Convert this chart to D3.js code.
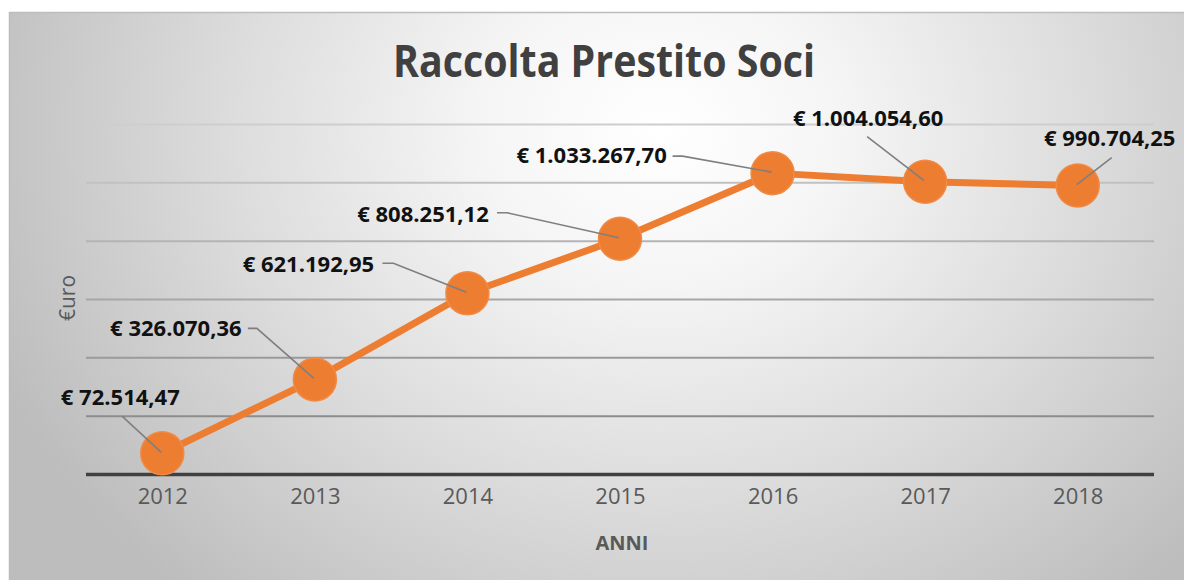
<!DOCTYPE html>
<html>
<head>
<meta charset="utf-8">
<script src="https://cdn.jsdelivr.net/npm/d3@7"></script>
<style>
  html, body { margin: 0; padding: 0; background: #ffffff; }
  svg { display: block; }
</style>
</head>
<body>
<svg id="chart" width="1184" height="580"></svg>
<script>
// ---- data ----
const years = ["2012", "2013", "2014", "2015", "2016", "2017", "2018"];
const values = [72514.47, 326070.36, 621192.95, 808251.12, 1033267.70, 1004054.60, 990704.25];
const valueLabels = ["€ 72.514,47", "€ 326.070,36", "€ 621.192,95", "€ 808.251,12",
                     "€ 1.033.267,70", "€ 1.004.054,60", "€ 990.704,25"];
const yTicks = [0, 200000, 400000, 600000, 800000, 1000000, 1200000];
const titleText = "Raccolta Prestito Soci";
const xTitle = "ANNI";
const yTitle = "€uro";

// ---- layout (annotation placement relative to each point) ----
// label: [dx of text centre, dy of baseline]; leader: [start dx, start dy, elbow length]
const labelLayout = [
  { tx: -42,  ty: -48, lx: -40, ly: -37, elbow: 0 },
  { tx: -139, ty: -43, lx: -67, ly: -51, elbow: 9 },
  { tx: -159, ty: -21, lx: -85, ly: -30, elbow: 11 },
  { tx: -197, ty: -17, lx: -123, ly: -26, elbow: 10 },
  { tx: -181, ty: -10, lx: -100, ly: -17, elbow: 10 },
  { tx: -57,  ty: -56, lx: -58, ly: -45, elbow: 0 },
  { tx: 32,   ty: -40, lx: 34,  ly: -28, elbow: 0 }
];

const W = 1184, H = 580;
const svg = d3.select("#chart");
const defs = svg.append("defs");

// background gradient
const bg = defs.append("radialGradient").attr("id", "bgGrad")
  .attr("gradientUnits", "userSpaceOnUse")
  .attr("cx", 660).attr("cy", 130).attr("r", 720)
  .attr("gradientTransform", "translate(660,130) scale(1,0.85) translate(-660,-130)");
bg.append("stop").attr("offset", "0%").attr("stop-color", "#ffffff");
bg.append("stop").attr("offset", "25%").attr("stop-color", "#f5f5f5");
bg.append("stop").attr("offset", "60%").attr("stop-color", "#dcdcdc");
bg.append("stop").attr("offset", "100%").attr("stop-color", "#bdbdbd");

const gridGrad = defs.append("linearGradient").attr("id", "gridGrad")
  .attr("gradientUnits", "userSpaceOnUse")
  .attr("x1", 0).attr("y1", 120).attr("x2", 0).attr("y2", 420);
gridGrad.append("stop").attr("offset", "0%").attr("stop-color", "#cfcfcf");
gridGrad.append("stop").attr("offset", "100%").attr("stop-color", "#8c8c8c");

svg.append("rect").attr("x", 9.5).attr("y", 12.5).attr("width", W).attr("height", H)
  .attr("fill", "url(#bgGrad)").attr("stroke", "#bdbdbd").attr("stroke-width", 1.5);

// scales
const x = d3.scalePoint().domain(years).range([86, 1154]).padding(0.5);
const y = d3.scaleLinear().domain([0, 1200000]).range([474.5, 124.5]);

// gridlines
svg.append("g").selectAll("line").data(yTicks.filter(d => d > 0)).join("line")
  .attr("x1", 86).attr("x2", 1154)
  .attr("y1", d => y(d)).attr("y2", d => y(d))
  .attr("stroke", "url(#gridGrad)").attr("stroke-width", 2);

// x axis
const xAxis = svg.append("g").attr("transform", `translate(0,${y(0)})`)
  .call(d3.axisBottom(x).tickSize(0).tickPadding(14));
xAxis.select(".domain").attr("stroke", "#404040").attr("stroke-width", 3.5)
  .attr("d", "M86,0H1154");
xAxis.selectAll("text")
  .attr("font-family", "'Open Sans', sans-serif").attr("font-size", 22)
  .attr("fill", "#595959").attr("dy", "0.71em");

// titles
svg.append("text").attr("x", 604).attr("y", 77).attr("text-anchor", "middle")
  .attr("font-family", "'Open Sans', sans-serif").attr("font-weight", 700)
  .attr("font-size", 45).attr("fill", "#404040")
  .attr("textLength", 422).attr("lengthAdjust", "spacingAndGlyphs")
  .text(titleText);

svg.append("text").attr("x", 622).attr("y", 550).attr("text-anchor", "middle")
  .attr("font-family", "'Open Sans', sans-serif").attr("font-weight", 700)
  .attr("font-size", 20).attr("fill", "#595959")
  .text(xTitle);

svg.append("text").attr("transform", "translate(75,298) rotate(-90)")
  .attr("text-anchor", "middle")
  .attr("font-family", "'Open Sans', sans-serif")
  .attr("font-size", 21).attr("fill", "#595959")
  .text(yTitle);

// line
const pts = years.map((yr, i) => ({ yr, v: values[i], label: valueLabels[i], lay: labelLayout[i] }));
svg.append("path").datum(pts)
  .attr("d", d3.line().x(d => x(d.yr)).y(d => y(d.v)))
  .attr("fill", "none").attr("stroke", "#ED7D31").attr("stroke-width", 7)
  .attr("stroke-linejoin", "round");

// markers
svg.append("g").selectAll("circle").data(pts).join("circle")
  .attr("cx", d => x(d.yr)).attr("cy", d => y(d.v)).attr("r", 21.5)
  .attr("fill", "#ED7D31").attr("stroke", "#F08A45").attr("stroke-width", 1.5);

// leader lines
svg.append("g").selectAll("path").data(pts).join("path")
  .attr("d", d => {
    const px = x(d.yr), py = y(d.v), L = d.lay;
    const sx = px + L.lx, sy = py + L.ly;
    return `M${sx},${sy}` + (L.elbow ? `h${L.elbow}` : "") + `L${px - 1},${py - 1}`;
  })
  .attr("fill", "none").attr("stroke", "#7f7f7f").attr("stroke-width", 1.6);

// labels
svg.append("g").selectAll("text").data(pts).join("text")
  .attr("x", d => x(d.yr) + d.lay.tx).attr("y", d => y(d.v) + d.lay.ty)
  .attr("text-anchor", "middle")
  .attr("font-family", "'Open Sans', sans-serif").attr("font-weight", 700)
  .attr("font-size", 22).attr("fill", "#111111")
  .text(d => d.label);
</script>
</body>
</html>
